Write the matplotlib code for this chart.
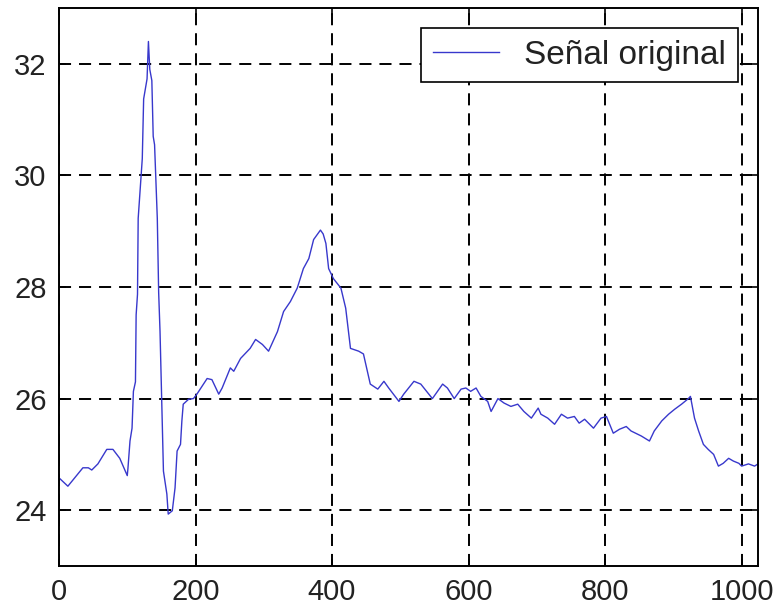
import numpy as np
import matplotlib
matplotlib.use("Agg")
import matplotlib.pyplot as plt

plt.rcParams['font.family'] = ['Liberation Sans', 'DejaVu Sans']

# signal (sample index, value)
muestra = [0, 13, 23, 35, 43, 48, 57, 70, 79, 89, 100, 101, 104, 107, 109, 112,
           113, 115, 116, 122, 124, 129, 131, 133, 136, 138, 140, 144, 146,
           148, 151, 153, 158, 160, 166, 170, 173, 178, 180, 182, 190, 197,
           202, 217, 224, 234, 239, 251, 256, 266, 276, 280, 288, 298, 307,
           320, 329, 339, 349, 358, 366, 373, 383, 387, 391, 395, 402, 413,
           420, 427, 439, 446, 456, 467, 476, 483, 498, 505, 520, 530, 547,
           562, 569, 579, 589, 596, 603, 611, 618, 628, 633, 643, 652, 662,
           672, 681, 692, 702, 706, 716, 726, 736, 745, 755, 762, 770, 783,
           794, 802, 806, 812, 821, 831, 838, 853, 865, 872, 883, 893, 902,
           912, 922, 925, 931, 937, 944, 951, 959, 966, 973, 981, 988, 996,
           1000, 1010, 1019, 1024]
senal = [24.58, 24.43, 24.58, 24.76, 24.76, 24.72, 24.83, 25.09, 25.09, 24.93,
         24.62, 24.75, 25.24, 25.47, 26.13, 26.30, 27.50, 27.87, 29.23, 30.30,
         31.37, 31.73, 32.40, 31.90, 31.70, 30.70, 30.55, 29.23, 27.90,
         27.20, 25.72, 24.70, 24.29, 23.93, 23.99, 24.40, 25.06, 25.18, 25.60,
         25.90, 25.99, 26.00, 26.08, 26.36, 26.34, 26.08, 26.19, 26.55, 26.49,
         26.72, 26.85, 26.90, 27.06, 26.97, 26.85, 27.20, 27.56, 27.74, 27.98,
         28.33, 28.51, 28.85, 29.02, 28.95, 28.78, 28.33, 28.15, 27.98, 27.62,
         26.90, 26.85, 26.80, 26.26, 26.17, 26.31, 26.19, 25.95, 26.08, 26.31,
         26.26, 26.00, 26.26, 26.19, 26.00, 26.17, 26.19, 26.13, 26.19, 26.04,
         25.95, 25.77, 26.00, 25.92, 25.86, 25.90, 25.77, 25.65, 25.83, 25.72,
         25.65, 25.54, 25.72, 25.65, 25.68, 25.56, 25.63, 25.47, 25.65, 25.68,
         25.56, 25.38, 25.45, 25.50, 25.42, 25.33, 25.24, 25.42, 25.60, 25.72,
         25.81, 25.90, 26.00, 26.04, 25.65, 25.42, 25.18, 25.09, 25.00, 24.79,
         24.84, 24.93, 24.88, 24.84, 24.79, 24.83, 24.79, 24.83]

xticks = [0, 200, 400, 600, 800, 1000]
yticks = [24, 26, 28, 30, 32]

fig = plt.figure(figsize=(7.78, 6.08), dpi=100)
ax = fig.add_axes([59 / 778, 1 - 566 / 608, (758 - 59) / 778, (566 - 8) / 608])

ax.plot(muestra, senal, color='#3838cc', lw=1.0, label='Señal original')

ax.set_xlim(0, 1024)
ax.set_ylim(23, 33)
ax.set_xticks(xticks)
ax.set_yticks(yticks)
ax.tick_params(direction='in', length=5, width=1.2, labelsize=21,
               top=True, right=True, pad=9, labelcolor='#222222')
for s in ax.spines.values():
    s.set_linewidth(1.4)

ax.grid(True, color='black', lw=1.4, linestyle=(0, (6.2, 4.1)))

leg = ax.legend(loc='upper right', fontsize=24, fancybox=False,
                edgecolor='black', framealpha=1, borderaxespad=0.6,
                handlelength=2.0, handletextpad=0.75, borderpad=0.35)
leg.get_frame().set_linewidth(1.2)
for t in leg.get_texts():
    t.set_color('#222222')

fig.savefig('out.png', dpi=100)
